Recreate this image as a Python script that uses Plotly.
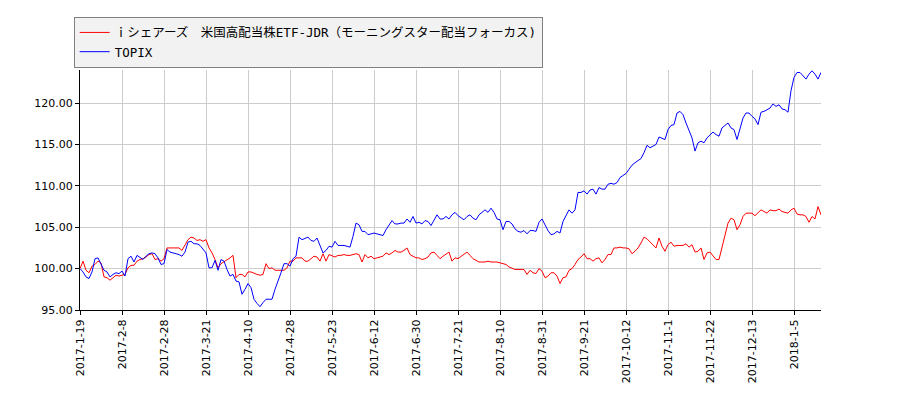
import pandas as pd
import plotly.graph_objects as go

# trading days (TSE) from 2017-1-19 to 2018-1-19
holidays = ["2017-03-20", "2017-05-03", "2017-05-04", "2017-05-05", "2017-07-17",
            "2017-08-11", "2017-09-18", "2017-10-09", "2017-11-03", "2017-11-23",
            "2018-01-01", "2018-01-02", "2018-01-03", "2018-01-08"]
days = pd.bdate_range("2017-01-19", "2018-01-19")
days = [d for d in days if d.strftime("%Y-%m-%d") not in holidays]
dates = [f"{d.year}-{d.month}-{d.day}" for d in days]

etf_name = "ｉシェアーズ　米国高配当株ETF-JDR（モーニングスター配当フォーカス)"

etf = [
    100.0, 100.9, 99.8, 99.5, 100.3, 100.5, 100.9, 100.7, 99.0, 98.9,
    98.6, 98.9, 99.2, 99.1, 99.2, 99.3, 100.1, 100.4, 100.4, 100.9,
    101.1, 101.2, 101.4, 101.7, 101.8, 101.1, 101.2, 100.9, 101.2, 102.5,
    102.5, 102.5, 102.5, 102.5, 102.2, 102.9, 103.5, 103.8, 103.7, 103.4,
    103.5, 103.3, 103.5, 102.5, 101.9, 101.1, 100.1, 100.6, 100.8, 101.1,
    101.3, 101.6, 98.9, 99.3, 99.3, 99.0, 99.6, 99.6, 99.4, 99.3,
    99.2, 99.3, 100.6, 100.0, 100.1, 99.8, 99.8, 99.8, 99.8, 100.1,
    100.9, 100.9, 101.3, 101.3, 101.3, 100.9, 100.9, 101.2, 101.5, 101.4,
    100.9, 101.8, 100.9, 101.7, 101.5, 101.4, 101.6, 101.6, 101.7, 101.6,
    101.6, 101.7, 101.8, 101.7, 100.8, 101.7, 101.3, 101.5, 101.2, 101.3,
    101.4, 101.5, 101.9, 101.7, 101.9, 102.2, 102.0, 102.0, 102.2, 102.5,
    101.7, 101.5, 101.3, 101.3, 101.1, 101.2, 101.4, 101.9, 102.0, 101.6,
    101.2, 101.5, 101.7, 102.0, 100.9, 101.3, 101.2, 101.5, 101.8, 102.0,
    101.6, 101.2, 101.0, 100.8, 100.8, 100.8, 100.9, 100.8, 100.8, 100.8,
    100.7, 100.6, 100.5, 100.2, 100.0, 99.9, 99.9, 99.9, 99.9, 99.3,
    99.8, 99.5, 99.4, 100.0, 99.7, 98.9, 99.1, 99.5, 99.5, 99.1,
    98.2, 98.9, 99.0, 99.8, 100.0, 100.5, 101.1, 101.4, 101.8, 101.2,
    101.2, 100.9, 101.2, 101.3, 100.7, 101.1, 101.7, 101.7, 102.5, 102.5,
    102.6, 102.5, 102.5, 102.4, 101.8, 102.1, 102.5, 103.1, 103.8, 103.6,
    103.2, 102.8, 102.5, 103.7, 102.7, 102.1, 102.9, 103.2, 102.7, 102.8,
    102.8, 102.8, 103.0, 102.6, 102.9, 102.0, 102.1, 102.5, 101.1, 101.9,
    102.0, 101.5, 101.1, 101.1, 102.7, 103.9, 105.5, 106.1, 105.9, 104.7,
    105.3, 106.3, 106.7, 106.7, 106.7, 106.4, 106.8, 107.1, 106.9, 106.7,
    107.1, 107.0, 107.0, 107.2, 106.9, 106.8, 106.7, 107.1, 107.3, 106.6,
    106.5, 106.5, 106.3, 105.6, 106.3, 106.0, 107.5, 106.5,
]

topix = [
    100.0, 99.6, 99.0, 98.8, 99.6, 101.2, 101.3, 100.6, 99.8, 99.6,
    99.0, 99.3, 99.5, 99.4, 99.7, 99.1, 101.2, 101.5, 100.8, 101.6,
    101.3, 101.1, 101.5, 101.8, 101.9, 101.8, 101.3, 100.5, 100.6, 102.3,
    102.0, 101.9, 101.8, 101.7, 101.5, 102.0, 103.2, 103.3, 103.0, 103.0,
    102.8, 102.3, 101.9, 100.1, 100.1, 101.0, 99.8, 101.1, 100.9, 99.9,
    99.1, 99.3, 98.5, 98.4, 96.9, 97.5, 98.2, 97.7, 96.3, 95.8,
    95.4, 95.9, 96.3, 96.3, 96.3, 97.5, 98.4, 99.5, 100.6, 100.6,
    100.3, 101.2, 101.5, 103.8, 103.5, 103.7, 103.8, 103.4, 103.3, 103.7,
    102.7, 101.9, 102.2, 102.7, 102.6, 103.3, 102.8, 102.8, 102.8, 102.7,
    102.6, 103.9, 105.5, 105.3, 104.5, 104.5, 104.1, 104.2, 104.3, 104.2,
    104.1, 104.0, 104.7, 105.3, 105.8, 105.4, 105.4, 105.5, 105.5, 106.0,
    105.6, 106.3, 105.5, 105.6, 105.4, 105.8, 105.7, 105.2, 105.9, 106.5,
    106.0, 106.0, 106.3, 106.0, 106.5, 106.8, 106.4, 106.1, 105.9, 106.3,
    106.5, 106.1, 105.9, 106.5, 106.8, 107.1, 106.8, 107.3, 106.8, 106.0,
    105.9, 104.7, 105.7, 105.7, 105.4, 104.8, 104.5, 104.4, 104.6, 104.2,
    104.6, 104.6, 104.5, 105.6, 106.0, 105.3, 104.6, 104.1, 104.2, 104.5,
    104.3, 105.7, 106.5, 107.1, 106.7, 107.1, 109.2, 109.2, 109.4, 109.0,
    109.5, 109.6, 109.0, 109.8, 109.6, 109.6, 110.2, 110.3, 110.2, 110.4,
    111.0, 111.2, 111.5, 112.0, 112.5, 112.8, 113.0, 113.3, 114.0, 114.9,
    114.6, 114.8, 115.0, 115.9, 115.7, 115.6, 116.8, 117.3, 117.4, 118.8,
    119.0, 118.6, 117.6, 116.8, 115.8, 114.2, 115.2, 115.4, 115.2, 115.8,
    116.2, 116.5, 116.2, 116.0, 117.0, 117.3, 117.6, 117.0, 116.8, 115.6,
    116.9, 118.2, 118.8, 118.8, 118.4, 118.1, 117.4, 118.9, 119.0, 119.2,
    119.4, 119.9, 119.6, 119.8, 119.3, 119.2, 118.9, 121.5, 123.1, 123.7,
    123.7, 123.3, 122.9, 123.5, 123.9, 123.5, 122.9, 123.7,
]

fig = go.Figure()
fig.add_trace(go.Scatter(x=dates, y=etf, mode="lines", name=etf_name,
                         line=dict(color="#ff0000", width=1)))
fig.add_trace(go.Scatter(x=dates, y=topix, mode="lines", name="TOPIX",
                         line=dict(color="#0000ff", width=1)))

# the page body has an 8px margin, so everything is shifted back by 8px
fig.update_layout(
    width=900, height=400,
    margin=dict(l=72, r=87, t=62, b=98, autoexpand=False),
    paper_bgcolor="white", plot_bgcolor="white",
    font=dict(family="DejaVu Sans", size=11, color="#000000"),
    showlegend=True,
    legend=dict(xref="container", yref="container", x=0.073, y=0.978,
                xanchor="left", yanchor="top",
                bgcolor="#f2f2f2", bordercolor="#808080", borderwidth=1,
                font=dict(family="DejaVu Sans Mono, Noto Sans CJK JP", size=12.5),
                tracegroupgap=0),
)
fig.update_xaxes(
    type="category", range=[0, len(dates) - 1],
    tickvals=dates[::14], ticktext=dates[::14], tickangle=-90,
    showgrid=True, gridcolor="#cccccc", gridwidth=1,
    showline=True, linecolor="#000000", linewidth=1,
    ticks="outside", ticklen=4, tickcolor="#000000",
    zeroline=False,
)
fig.update_yaxes(
    range=[95, 124], tickvals=[95, 100, 105, 110, 115, 120], tickformat=".2f",
    showgrid=True, gridcolor="#cccccc", gridwidth=1,
    showline=True, linecolor="#000000", linewidth=1,
    ticks="outside", ticklen=4, tickcolor="#000000",
    zeroline=False,
)

fig.write_html("out.html")
